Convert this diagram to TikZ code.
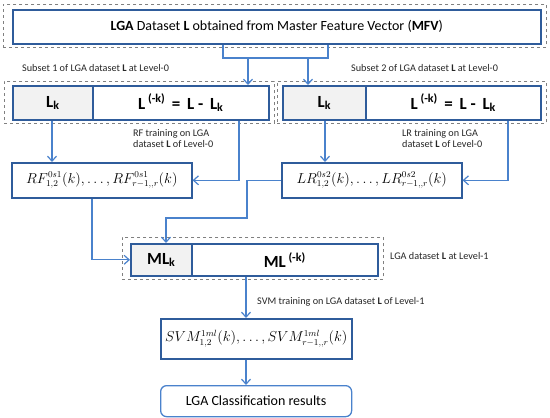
\documentclass[tikz,border=0pt]{standalone}
\usepackage{fontspec}
\setmainfont{Carlito}
\usetikzlibrary{arrows.meta,calc}
\definecolor{boxblue}{HTML}{2F5C9B}
\definecolor{arrblue}{HTML}{4A82CC}
\definecolor{lightg}{HTML}{F2F2F2}
\definecolor{dashg}{HTML}{808080}
\begin{document}
\begin{tikzpicture}[x=1pt,y=-1pt,
  box/.style={draw=boxblue,line width=1.6pt,inner sep=0pt,anchor=north west,fill=white},
  gbox/.style={box,fill=lightg},
  dbox/.style={draw=dashg,dashed,line width=0.7pt,inner sep=0pt,anchor=north west},
  line/.style={draw=arrblue,line width=1.2pt},
  arr/.style={line,-{Straight Barb[length=5pt,width=9pt]}},
  lbl/.style={font=\fontsize{10.2}{11.5}\selectfont,inner sep=0pt,text=black!85},
  big/.style={font=\fontsize{17}{17}\selectfont\bfseries},
  mth/.style={font=\fontsize{13.5}{14}\selectfont}]
\useasboundingbox (0,0) rectangle (550,418);
% dashed frames
\node[dbox,minimum width=543pt,minimum height=43pt] (topdash) at (3,4) {};
\node[dbox,minimum width=270pt,minimum height=42pt] (s1dash) at (4,81) {};
\node[dbox,minimum width=269pt,minimum height=42pt] (s2dash) at (277,81) {};
\node[dbox,minimum width=261pt,minimum height=42pt] (mldash) at (122,237) {};
% boxes
\node[box,minimum width=528pt,minimum height=34pt,font=\fontsize{14}{14}\selectfont] (top) at (12,9)
  {\textbf{LGA} Dataset \textbf{L} obtained from Master Feature Vector (\textbf{MFV})};
\node[gbox,minimum width=80pt,minimum height=34pt,big] (s1k) at (12,85) {L\textsubscript{k}};
\node[box,minimum width=176pt,minimum height=34pt,big] (s1r) at (92,85) {L\textsuperscript{ (-k)} \,=\, L -\, L\textsubscript{k}};
\node[gbox,minimum width=83pt,minimum height=34pt,big] (s2k) at (282,85) {L\textsubscript{k}};
\node[box,minimum width=175pt,minimum height=34pt,big] (s2r) at (365,85) {L\textsuperscript{ (-k)} \,=\, L -\, L\textsubscript{k}};
\node[box,minimum width=180pt,minimum height=35pt,mth] (rf) at (11,162) {$RF^{0s1}_{1,2}(k),\ldots,RF^{0s1}_{r-1,,r}(k)$};
\node[box,minimum width=180pt,minimum height=35pt,mth] (lr) at (281,162) {$LR^{0s2}_{1,2}(k),\ldots,LR^{0s2}_{r-1,,r}(k)$};
\node[gbox,minimum width=61pt,minimum height=32pt,big] (mlk) at (130,243) {ML\textsubscript{k}};
\node[box,minimum width=186pt,minimum height=32pt,big] (mlr) at (191,243) {ML\textsuperscript{ (-k)}};
\node[box,minimum width=191pt,minimum height=40pt,mth] (svm) at (160,318) {$SVM^{1ml}_{1,2}(k),\ldots,SVM^{1ml}_{r-1,,r}(k)$};
\node[box,rounded corners=6pt,draw=arrblue,line width=1.3pt,minimum width=191pt,minimum height=31pt,font=\fontsize{14}{14}\selectfont] (res) at (160,385) {LGA Classification results};
% labels
\node[lbl,anchor=west] (l1) at (22,68) {Subset 1 of LGA dataset \textbf{L} at Level-0};
\node[lbl,anchor=west] (l2) at (351,68) {Subset 2 of LGA dataset \textbf{L} at Level-0};
\node[lbl,anchor=north west,align=left] (l3) at (133,129) {RF training on LGA\\dataset \textbf{L} of Level-0};
\node[lbl,anchor=north west,align=left] (l4) at (402,129) {LR training on LGA\\dataset \textbf{L} of Level-0};
\node[lbl,anchor=west] (l5) at (390,256) {LGA dataset \textbf{L} at Level-1};
\node[lbl,anchor=west] (l6) at (257,302) {SVM training on LGA dataset \textbf{L} of Level-1};
% connectors
\coordinate (ja) at (223,58); \coordinate (jb) at (328,58);
\coordinate (a1) at (248,58); \coordinate (a2) at (308,58);
\draw[line] (top.south -| ja) -- (ja) -- (jb) -- (top.south -| jb);
\draw[arr] (a1) -- (s1r.north -| a1);
\draw[arr] (a2) -- (s2k.north -| a2);
\coordinate (c1) at (52,0); \coordinate (c2) at (239,0);
\coordinate (c3) at (325,0); \coordinate (c4) at (508,0);
\draw[arr] (s1k.south -| c1) -- (rf.north -| c1);
\draw[arr] (s1r.south -| c2) -- (c2 |- rf.east) -- (rf.east);
\draw[arr] (s2k.south -| c3) -- (lr.north -| c3);
\draw[arr] (s2r.south -| c4) -- (c4 |- lr.east) -- (lr.east);
\coordinate (b1) at (247,218); \coordinate (b2) at (166,218); \coordinate (b3) at (92,0);
\draw[arr] (lr.west) -- (lr.west -| b1) -- (b1) -- (b2) -- (mlk.north -| b2);
\draw[arr] (rf.south -| b3) -- (b3 |- mlk.west) -- (mlk.west);
\coordinate (d1) at (246,0);
\draw[arr] (mlr.south -| d1) -- (svm.north -| d1);
\draw[arr] (svm.south -| d1) -- (res.north -| d1);
\end{tikzpicture}
\end{document}
